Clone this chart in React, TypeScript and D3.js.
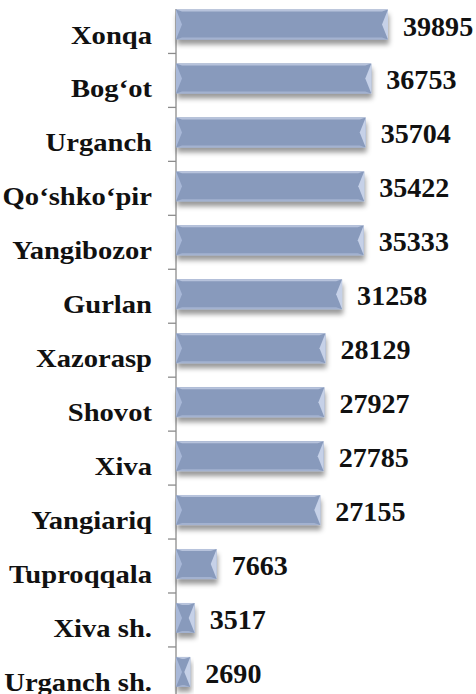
import React from 'react'
import * as d3 from 'd3'

const categories = [
  'Xonqa',
  'Bog‘ot',
  'Urganch',
  'Qo‘shko‘pir',
  'Yangibozor',
  'Gurlan',
  'Xazorasp',
  'Shovot',
  'Xiva',
  'Yangiariq',
  'Tuproqqala',
  'Xiva sh.',
  'Urganch sh.',
]
const values = [39895, 36753, 35704, 35422, 35333, 31258, 28129, 27927, 27785, 27155, 7663, 3517, 2690]

const width = 476
const height = 694
const axisX = 176
const font = "'Liberation Serif', 'Times New Roman', serif"

function App() {
  const x = d3.scaleLinear().domain([0, 39895]).range([axisX, axisX + 212])
  const y = d3.scaleBand<string>().domain(categories).range([-0.5, 700.9]).paddingInner(0).paddingOuter(0)
  const barTop = 10
  const barH = 30
  const bev = 6

  return (
    <svg width={width} height={height} style={{ position: 'absolute', left: 0, top: 0 }}>
      <defs>
        <filter id="shadow" x="-10%" y="-30%" width="130%" height="180%">
          <feDropShadow dx="1" dy="5" stdDeviation="2.5" floodColor="#000" floodOpacity="0.4" />
        </filter>
      </defs>
      <rect width={width} height={height} fill="#fff" />
      {/* axis */}
      <line x1={axisX} x2={axisX} y1={9} y2={height} stroke="#8c8c8c" strokeWidth={1.3} />
      {categories.slice(1).map(c => (
        <line key={'t' + c} x1={axisX - 8} x2={axisX} y1={y(c)!} y2={y(c)!} stroke="#8c8c8c" strokeWidth={1.3} />
      ))}
      {categories.map((c, i) => {
        const y0 = y(c)! + barTop
        const y1 = y0 + barH
        const x0 = x(0)
        const x1 = x(values[i])
        const mid = (y0 + y1) / 2
        const b = Math.min(bev, (x1 - x0) / 2)
        return (
          <g key={c}>
            <rect x={x0} y={y0} width={x1 - x0} height={barH} fill="#889abc" filter="url(#shadow)" />
            <polygon points={`${x0},${y0} ${x1},${y0} ${x1 - b},${y0 + 2} ${x0 + b},${y0 + 2}`} fill="#b7c3dc" />
            <polygon points={`${x0},${y1} ${x1},${y1} ${x1 - b},${y1 - 2} ${x0 + b},${y1 - 2}`} fill="#a3b2d0" />
            <polygon points={`${x0},${y0} ${x0 + b},${mid} ${x0},${y1}`} fill="#a8b8d8" />
            <polygon points={`${x1},${y0} ${x1 - b},${mid} ${x1},${y1}`} fill="#c6d1e8" />
            <text
              transform={`translate(${x1 + 15},${y(c)! + 36}) scale(1.04,1)`}
              fontFamily={font}
              fontWeight="bold"
              fontSize={27}
              fill="#111"
            >
              {values[i]}
            </text>
            <text
              transform={`translate(152,${y(c)! + 44}) scale(1.1,1)`}
              textAnchor="end"
              fontFamily={font}
              fontWeight="bold"
              fontSize={26}
              fill="#111"
            >
              {c}
            </text>
          </g>
        )
      })}
    </svg>
  )
}

export default App
